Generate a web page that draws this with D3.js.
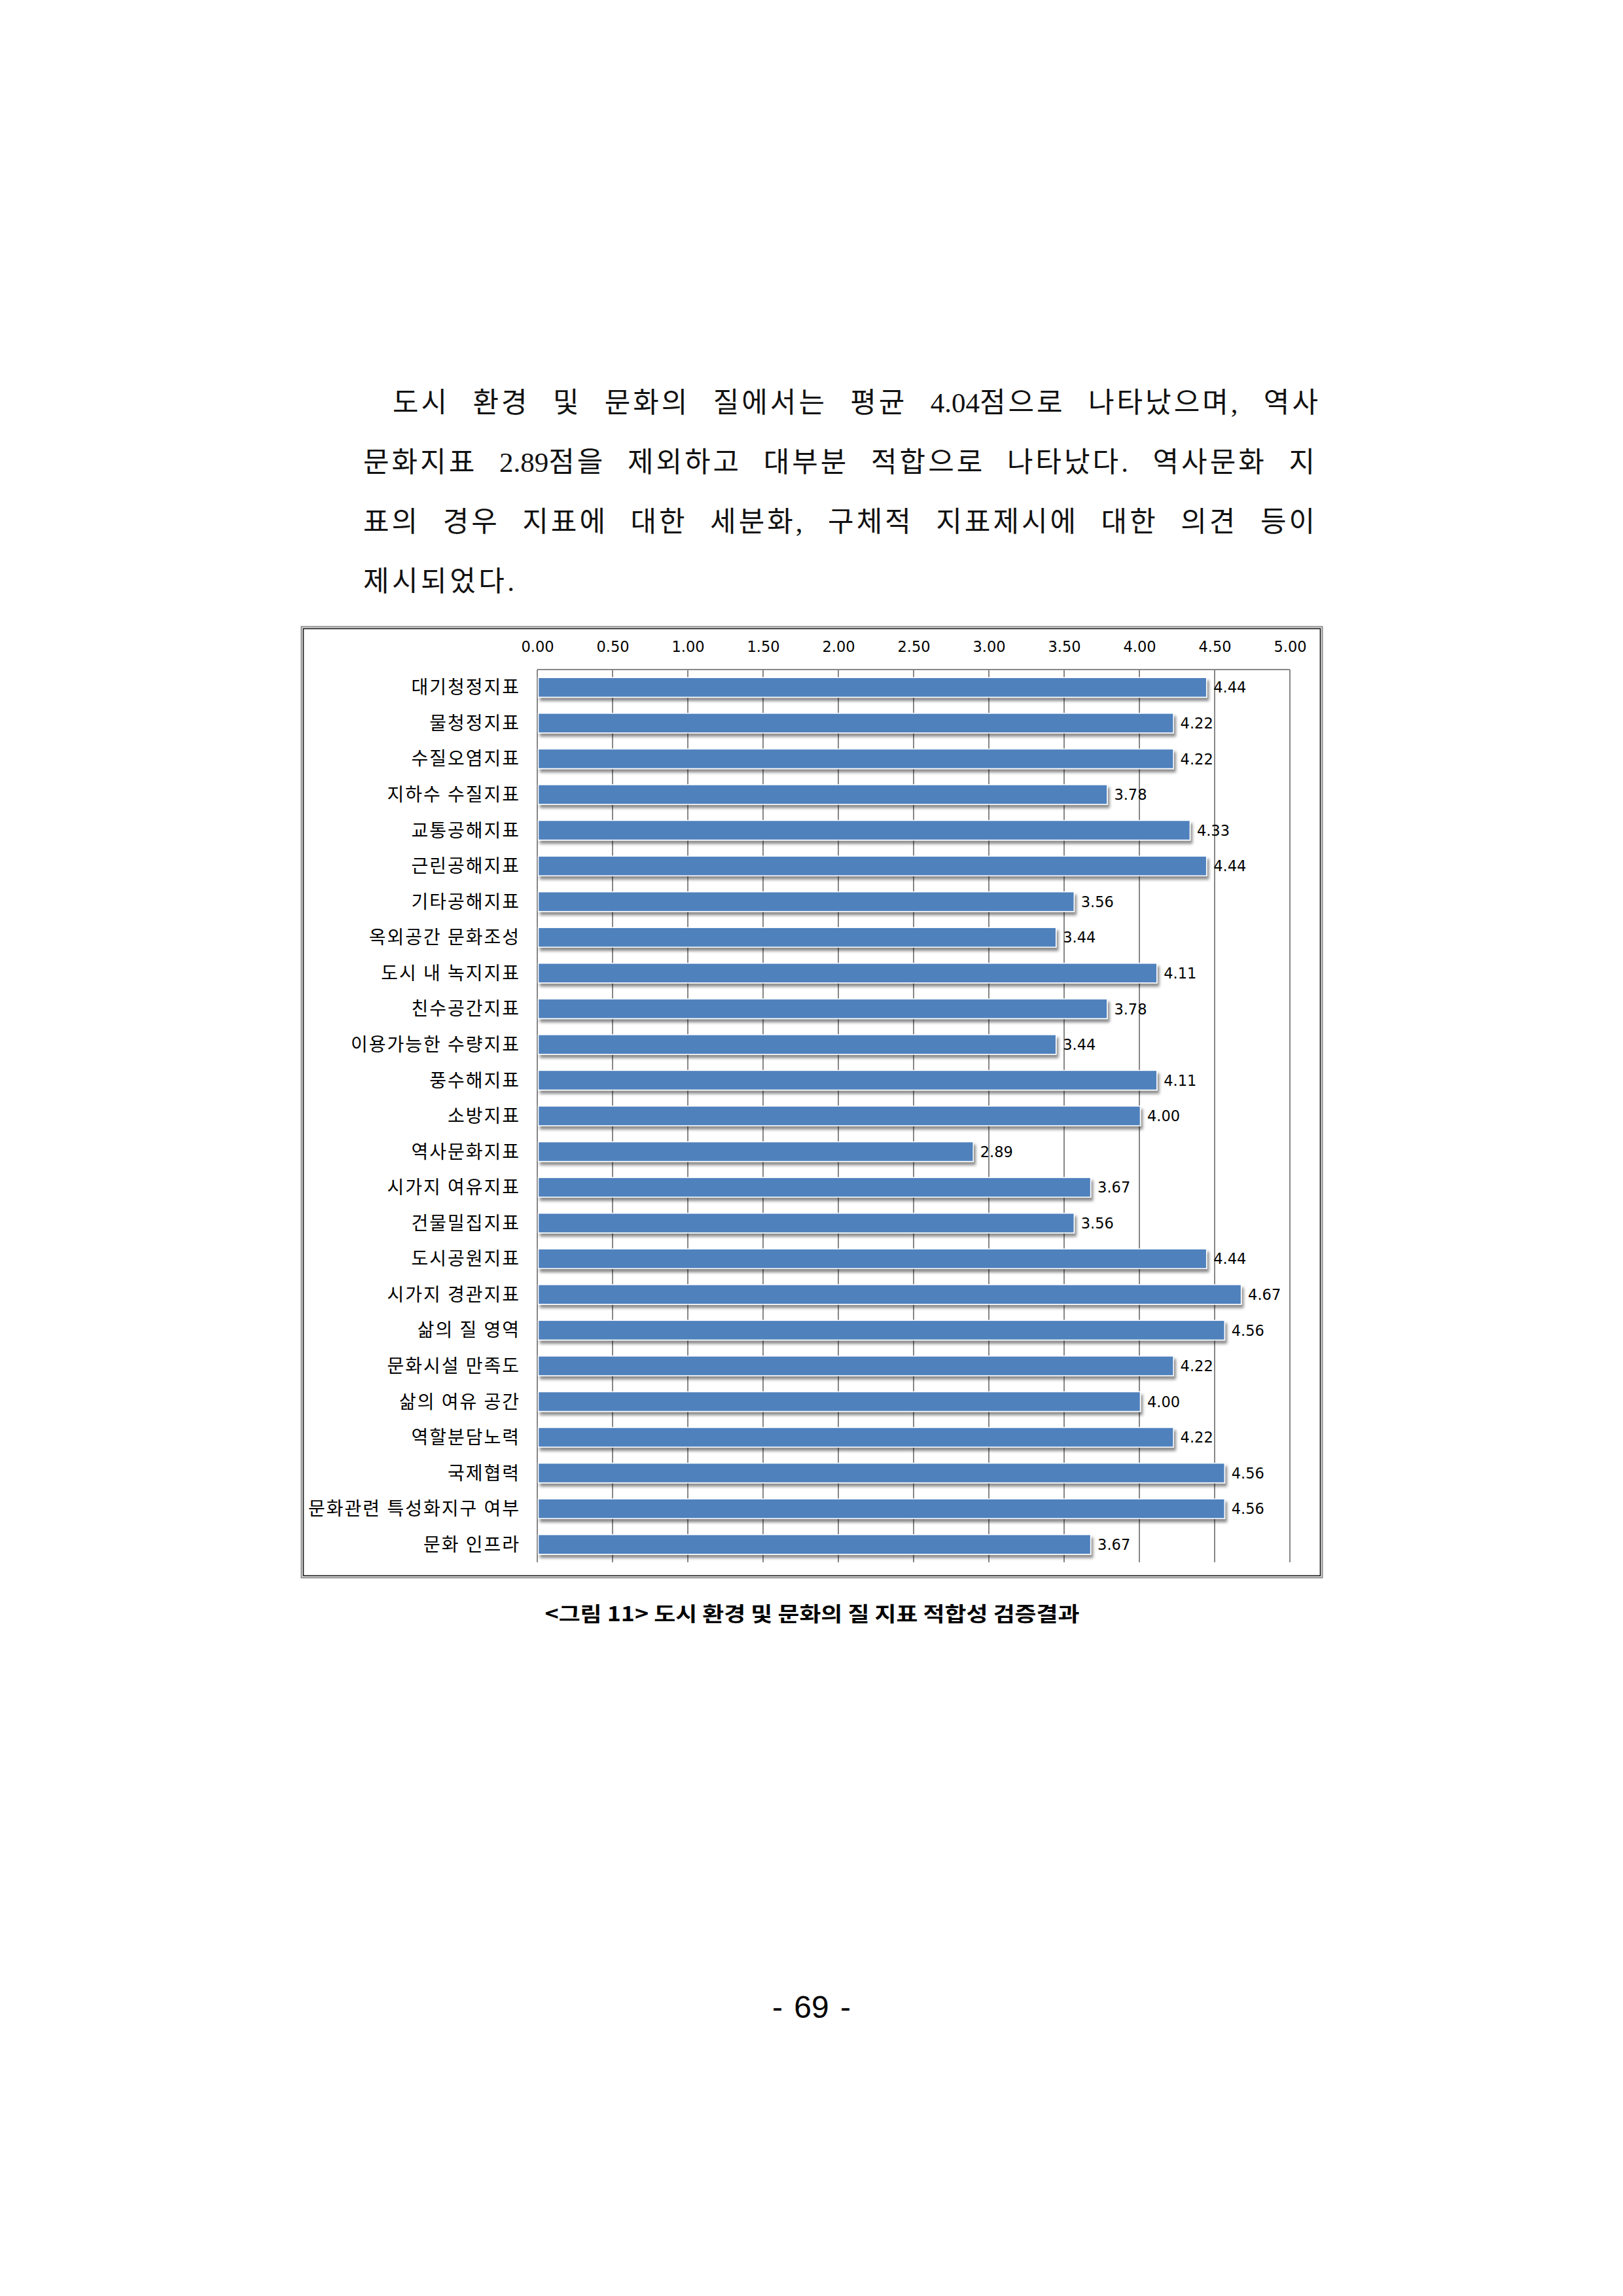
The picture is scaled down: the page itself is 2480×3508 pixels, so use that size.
<!DOCTYPE html>
<html>
<head>
<meta charset="utf-8">
<script src="https://cdn.jsdelivr.net/npm/d3@7"></script>
<style>
  html, body { margin: 0; padding: 0; background: #fff; }
  svg { display: block; }
</style>
</head>
<body>
<script>
const categories = [
  "대기청정지표", "물청정지표", "수질오염지표", "지하수 수질지표", "교통공해지표",
  "근린공해지표", "기타공해지표", "옥외공간 문화조성", "도시 내 녹지지표", "친수공간지표",
  "이용가능한 수량지표", "풍수해지표", "소방지표", "역사문화지표", "시가지 여유지표",
  "건물밀집지표", "도시공원지표", "시가지 경관지표", "삶의 질 영역", "문화시설 만족도",
  "삶의 여유 공간", "역할분담노력", "국제협력", "문화관련 특성화지구 여부", "문화 인프라"
];
const values = [
  4.44, 4.22, 4.22, 3.78, 4.33,
  4.44, 3.56, 3.44, 4.11, 3.78,
  3.44, 4.11, 4.00, 2.89, 3.67,
  3.56, 4.44, 4.67, 4.56, 4.22,
  4.00, 4.22, 4.56, 4.56, 3.67
];
const tickValues = [0, 0.5, 1, 1.5, 2, 2.5, 3, 3.5, 4, 4.5, 5];
const paragraphLines = [
  "도시 환경 및 문화의 질에서는 평균 4.04점으로 나타났으며, 역사",
  "문화지표 2.89점을 제외하고 대부분 적합으로 나타났다. 역사문화 지",
  "표의 경우 지표에 대한 세분화, 구체적 지표제시에 대한 의견 등이",
  "제시되었다."
];
const captionText = "<그림 11> 도시 환경 및 문화의 질 지표 적합성 검증결과";
const pageNumber = "- 69 -";

const W = 2480, H = 3508;
const svg = d3.select("body").append("svg")
  .attr("width", W).attr("height", H)
  .attr("viewBox", `0 0 ${W} ${H}`);
svg.append("rect").attr("width", W).attr("height", H).attr("fill", "#fff");

const defs = svg.append("defs");
const f = defs.append("filter").attr("id", "barShadow")
  .attr("x", "-5%").attr("y", "-60%").attr("width", "115%").attr("height", "260%");
f.append("feDropShadow").attr("dx", 3).attr("dy", 5).attr("stdDeviation", 2.2)
  .attr("flood-color", "#000").attr("flood-opacity", 0.45);

// Paragraph (justified by widening word spaces; digit runs kept tight)
const para = [
  { x0: 600, x1: 2018, y: 630, justify: true },
  { x0: 555, x1: 2013, y: 721, justify: true },
  { x0: 555, x1: 2013, y: 812, justify: true },
  { x0: 555, x1: 790, y: 903, justify: false }
];
const paraText = svg.append("g").selectAll("text").data(paragraphLines).join("text")
  .attr("x", (d, i) => para[i].x0)
  .attr("y", (d, i) => para[i].y)
  .attr("font-family", "'Liberation Serif', 'Noto Sans CJK KR', serif")
  .attr("font-size", 43)
  .attr("fill", "#111");
paraText.each(function(d, i) {
  const el = d3.select(this);
  const parts = d.split(/(\d+\.\d+)/);
  parts.forEach(p => {
    if (!p) return;
    const isNum = /^\d+\.\d+$/.test(p);
    el.append("tspan").attr("letter-spacing", isNum ? 0 : 4).text(p);
  });
  const natural = this.getComputedTextLength();
  const target = para[i].x1 - para[i].x0;
  const spaces = (d.match(/ /g) || []).length;
  if (para[i].justify && spaces > 0) {
    el.attr("word-spacing", Math.max(0, (target - natural) / spaces));
  } else {
    el.attr("textLength", target).attr("lengthAdjust", "spacing");
  }
});

// Chart frame
svg.append("rect").attr("x", 460.5).attr("y", 957.5).attr("width", 1560).attr("height", 1453)
  .attr("fill", "none").attr("stroke", "#8c8c8c").attr("stroke-width", 2);
svg.append("rect").attr("x", 463.5).attr("y", 960.5).attr("width", 1554).attr("height", 1447)
  .attr("fill", "#fff").attr("stroke", "#111").attr("stroke-width", 1.6);

const plotTop = 1023, plotBottom = 2387, plotLeft = 821, plotRight = 1971;
const x = d3.scaleLinear().domain([0, 5]).range([plotLeft, plotRight]);
const y = d3.scaleBand().domain(categories).range([plotTop, plotBottom])
  .paddingInner(0.45).paddingOuter(0.225);

// Gridlines
svg.append("g").selectAll("line").data(tickValues.slice(1)).join("line")
  .attr("x1", d => x(d)).attr("x2", d => x(d))
  .attr("y1", plotTop).attr("y2", plotBottom)
  .attr("stroke", "#878787").attr("stroke-width", 2);
svg.append("line").attr("x1", plotLeft).attr("x2", plotRight)
  .attr("y1", plotTop).attr("y2", plotTop)
  .attr("stroke", "#878787").attr("stroke-width", 2);
svg.append("line").attr("x1", plotLeft).attr("x2", plotLeft)
  .attr("y1", plotTop).attr("y2", plotBottom)
  .attr("stroke", "#878787").attr("stroke-width", 2);

// Top axis labels
const xAxis = d3.axisTop(x).tickValues(tickValues).tickSize(0).tickPadding(0)
  .tickFormat(d3.format(".2f"));
const gx = svg.append("g").attr("transform", `translate(0, 996)`).call(xAxis);
gx.select(".domain").remove();
gx.selectAll("text")
  .attr("font-family", "'DejaVu Sans', sans-serif")
  .attr("font-size", 22.5)
  .attr("fill", "#000")
  .attr("dy", 0);

// Bars
svg.append("g").selectAll("rect").data(values).join("rect")
  .attr("x", x(0) + 1.5)
  .attr("y", (d, i) => y(categories[i]))
  .attr("width", d => x(d) - x(0))
  .attr("height", y.bandwidth())
  .attr("fill", "#4F81BD")
  .attr("stroke", "#fff").attr("stroke-width", 1.5)
  .attr("filter", "url(#barShadow)");

// Category labels
const yAxis = d3.axisLeft(y).tickSize(0).tickPadding(26);
const gy = svg.append("g").attr("transform", `translate(${plotLeft}, 0)`).call(yAxis);
gy.select(".domain").remove();
gy.selectAll("text")
  .attr("font-family", "'Noto Sans CJK KR', sans-serif")
  .attr("font-size", 28)
  .attr("letter-spacing", 2)
  .attr("word-spacing", 1)
  .attr("fill", "#000")
  .attr("dy", "0.36em");

// Value labels
svg.append("g").selectAll("text").data(values).join("text")
  .attr("x", d => x(d) + 12)
  .attr("y", (d, i) => y(categories[i]) + y.bandwidth() / 2)
  .attr("dy", "0.365em")
  .attr("font-family", "'DejaVu Sans', sans-serif")
  .attr("font-size", 22.5)
  .attr("fill", "#000")
  .text(d => d3.format(".2f")(d));

// Caption
svg.append("text")
  .attr("x", 1241).attr("y", 2477)
  .attr("text-anchor", "middle")
  .attr("textLength", 817).attr("lengthAdjust", "spacingAndGlyphs")
  .attr("font-family", "'Noto Sans CJK KR', sans-serif")
  .attr("font-weight", "bold")
  .attr("font-size", 31)
  .attr("fill", "#000")
  .text(captionText);

// Page number
svg.append("text")
  .attr("x", 1240).attr("y", 3083)
  .attr("text-anchor", "middle")
  .attr("font-family", "'Liberation Sans', sans-serif")
  .attr("font-size", 48)
  .attr("word-spacing", 4)
  .attr("fill", "#000")
  .text(pageNumber);
</script>
</body>
</html>
